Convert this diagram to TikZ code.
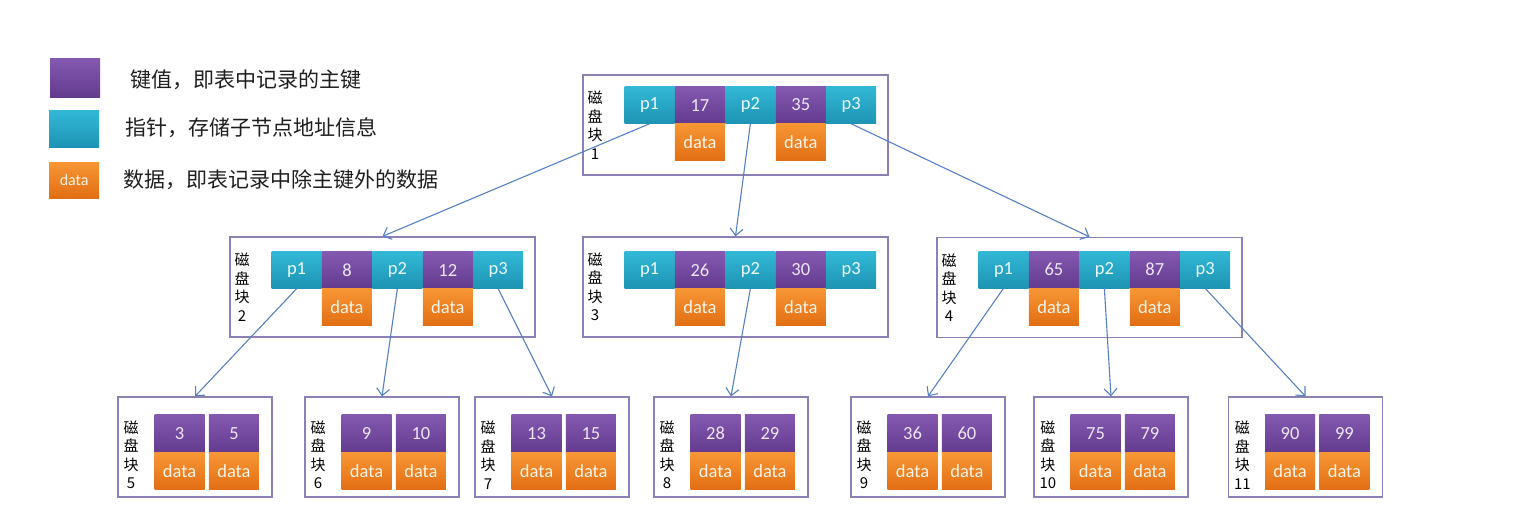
\documentclass[tikz,border=0pt]{standalone}
\usepackage{fontspec}
\setmainfont{Carlito}
\newfontfamily\cjk{Noto Sans CJK SC}
\usetikzlibrary{positioning,arrows.meta}
\usepackage{xcolor}

\definecolor{keytop}{RGB}{132,90,176}
\definecolor{keybot}{RGB}{98,58,142}
\definecolor{ptrtop}{RGB}{50,184,214}
\definecolor{ptrbot}{RGB}{30,148,180}
\definecolor{dattop}{RGB}{247,150,52}
\definecolor{datbot}{RGB}{226,110,20}
\definecolor{blkline}{RGB}{140,128,182}
\definecolor{linkblue}{RGB}{86,128,196}
\definecolor{legendtext}{RGB}{30,30,30}

\begin{document}
\begin{tikzpicture}[
    x=1pt, y=-1pt,
    node distance=0pt,
    cell/.style={minimum width=50pt, minimum height=37pt, inner sep=0pt, font=\fontsize{18.5}{18.5}\selectfont},
    key/.style={cell, top color=keytop, bottom color=keybot, text=white!85!keytop},
    ptr/.style={cell, top color=ptrtop, bottom color=ptrbot, text=white!90!ptrtop},
    dat/.style={cell, top color=dattop, bottom color=datbot, text=white!88!dattop},
    block/.style={draw=blkline, line width=1.3pt, minimum width=305pt, minimum height=100pt, inner sep=0pt},
    leaf/.style={block, minimum width=154pt},
    disk/.style={font=\cjk\fontsize{15}{18.5}\selectfont, align=center, inner sep=0pt, anchor=west},
    link/.style={draw=linkblue, line width=1.1pt, -{Straight Barb[length=7pt,width=13pt]}},
    legend/.style={font=\cjk\fontsize{21}{21}\selectfont, text=legendtext, anchor=west, inner sep=0pt}
]
    \useasboundingbox (0,0) rectangle (1535,507);

    % legend
    \node[key, minimum height=39pt, anchor=north west] (lgkey) at (50,58) {};
    \node[ptr, anchor=north west] (lgptr) at (49,110) {};
    \node[dat, minimum height=36pt, anchor=north west, font=\fontsize{16}{16}\selectfont] (lgdat) at (49,162) {data};
    \node[legend] (lgkeytxt) at (130,80) {键值，即表中记录的主键};
    \node[legend] (lgptrtxt) at (125,128) {指针，存储子节点地址信息};
    \node[legend] (lgdattxt) at (123,180) {数据，即表记录中除主键外的数据};

    % root
    \node[block] (b1) at (735.5,125) {};
    \node[disk] (l1) at ([xshift=5pt]b1.west) {磁\\盘\\块\\1};
    \node[ptr, anchor=north west] (b1p1) at ([xshift=42pt,yshift=-12pt]b1.north west) {p1};
    \node[key, right=of b1p1] (b1k1) {17};
    \node[ptr, right=of b1k1] (b1p2) {p2};
    \node[key, right=of b1p2] (b1k2) {35};
    \node[ptr, right=of b1k2] (b1p3) {p3};
    \node[dat, below=of b1k1] (b1d1) {data};
    \node[dat, below=of b1k2] (b1d2) {data};

    % second level
    \node[block] (b2) at (382.5,287) {};
    \node[disk] (l2) at ([xshift=5pt]b2.west) {磁\\盘\\块\\2};
    \node[ptr, anchor=north west] (b2p1) at ([xshift=42pt,yshift=-15pt]b2.north west) {p1};
    \node[key, right=of b2p1] (b2k1) {8};
    \node[ptr, right=of b2k1] (b2p2) {p2};
    \node[key, right=of b2p2] (b2k2) {12};
    \node[ptr, right=of b2k2] (b2p3) {p3};
    \node[dat, below=of b2k1] (b2d1) {data};
    \node[dat, below=of b2k2] (b2d2) {data};

    \node[block] (b3) at (735.5,287) {};
    \node[disk] (l3) at ([xshift=5pt]b3.west) {磁\\盘\\块\\3};
    \node[ptr, anchor=north west] (b3p1) at ([xshift=42pt,yshift=-15pt]b3.north west) {p1};
    \node[key, right=of b3p1] (b3k1) {26};
    \node[ptr, right=of b3k1] (b3p2) {p2};
    \node[key, right=of b3p2] (b3k2) {30};
    \node[ptr, right=of b3k2] (b3p3) {p3};
    \node[dat, below=of b3k1] (b3d1) {data};
    \node[dat, below=of b3k2] (b3d2) {data};

    \node[block] (b4) at (1089.5,287.5) {};
    \node[disk] (l4) at ([xshift=5pt]b4.west) {磁\\盘\\块\\4};
    \node[ptr, anchor=north west] (b4p1) at ([xshift=42pt,yshift=-14pt]b4.north west) {p1};
    \node[key, right=of b4p1] (b4k1) {65};
    \node[ptr, right=of b4k1] (b4p2) {p2};
    \node[key, right=of b4p2] (b4k2) {87};
    \node[ptr, right=of b4k2] (b4p3) {p3};
    \node[dat, below=of b4k1] (b4d1) {data};
    \node[dat, below=of b4k2] (b4d2) {data};

    % leaves
    \node[leaf] (b5) at (195,447) {};
    \node[disk] (l5) at ([xshift=6pt,yshift=-8pt]b5.west) {磁\\盘\\块\\5};
    \node[key, anchor=north west, minimum height=38pt] (b5k1) at ([xshift=37pt,yshift=-18pt]b5.north west) {3};
    \node[key, right=4pt of b5k1, minimum height=38pt] (b5k2) {5};
    \node[dat, below=of b5k1] (b5d1) {data};
    \node[dat, below=of b5k2] (b5d2) {data};

    \node[leaf] (b6) at (382,447) {};
    \node[disk] (l6) at ([xshift=6pt,yshift=-8pt]b6.west) {磁\\盘\\块\\6};
    \node[key, anchor=north west, minimum height=38pt] (b6k1) at ([xshift=37pt,yshift=-18pt]b6.north west) {9};
    \node[key, right=4pt of b6k1, minimum height=38pt] (b6k2) {10};
    \node[dat, below=of b6k1] (b6d1) {data};
    \node[dat, below=of b6k2] (b6d2) {data};

    \node[leaf] (b7) at (552,447) {};
    \node[disk] (l7) at ([xshift=6pt,yshift=-8pt]b7.west) {磁\\盘\\块\\7};
    \node[key, anchor=north west, minimum height=38pt] (b7k1) at ([xshift=37pt,yshift=-18pt]b7.north west) {13};
    \node[key, right=4pt of b7k1, minimum height=38pt] (b7k2) {15};
    \node[dat, below=of b7k1] (b7d1) {data};
    \node[dat, below=of b7k2] (b7d2) {data};

    \node[leaf] (b8) at (731,447) {};
    \node[disk] (l8) at ([xshift=6pt,yshift=-8pt]b8.west) {磁\\盘\\块\\8};
    \node[key, anchor=north west, minimum height=38pt] (b8k1) at ([xshift=37pt,yshift=-18pt]b8.north west) {28};
    \node[key, right=4pt of b8k1, minimum height=38pt] (b8k2) {29};
    \node[dat, below=of b8k1] (b8d1) {data};
    \node[dat, below=of b8k2] (b8d2) {data};

    \node[leaf] (b9) at (928,447) {};
    \node[disk] (l9) at ([xshift=6pt,yshift=-8pt]b9.west) {磁\\盘\\块\\9};
    \node[key, anchor=north west, minimum height=38pt] (b9k1) at ([xshift=37pt,yshift=-18pt]b9.north west) {36};
    \node[key, right=4pt of b9k1, minimum height=38pt] (b9k2) {60};
    \node[dat, below=of b9k1] (b9d1) {data};
    \node[dat, below=of b9k2] (b9d2) {data};

    \node[leaf] (b10) at (1111,447) {};
    \node[disk] (l10) at ([xshift=6pt,yshift=-8pt]b10.west) {磁\\盘\\块\\10};
    \node[key, anchor=north west, minimum height=38pt] (b10k1) at ([xshift=37pt,yshift=-18pt]b10.north west) {75};
    \node[key, right=4pt of b10k1, minimum height=38pt] (b10k2) {79};
    \node[dat, below=of b10k1] (b10d1) {data};
    \node[dat, below=of b10k2] (b10d2) {data};

    \node[leaf] (b11) at (1305.5,447) {};
    \node[disk] (l11) at ([xshift=6pt,yshift=-8pt]b11.west) {磁\\盘\\块\\11};
    \node[key, anchor=north west, minimum height=38pt] (b11k1) at ([xshift=37pt,yshift=-18pt]b11.north west) {90};
    \node[key, right=4pt of b11k1, minimum height=38pt] (b11k2) {99};
    \node[dat, below=of b11k1] (b11d1) {data};
    \node[dat, below=of b11k2] (b11d2) {data};

    % pointers
    \draw[link] (b1p1.south) -- (b2.north);
    \draw[link] (b1p2.south) -- (b3.north);
    \draw[link] (b1p3.south) -- (b4.north);
    \draw[link] (b2p1.south) -- (b5.north);
    \draw[link] (b2p2.south) -- (b6.north);
    \draw[link] (b2p3.south) -- (b7.north);
    \draw[link] (b3p2.south) -- (b8.north);
    \draw[link] (b4p1.south) -- (b9.north);
    \draw[link] (b4p2.south) -- (b10.north);
    \draw[link] (b4p3.south) -- (b11.north);
\end{tikzpicture}
\end{document}
